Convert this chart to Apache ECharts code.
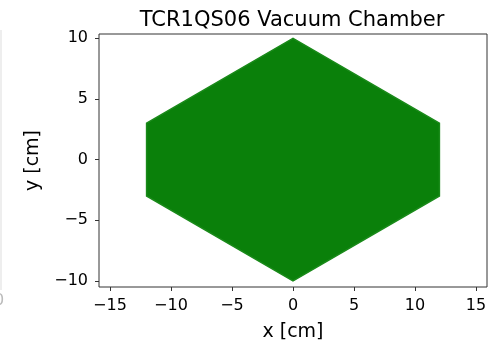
<!DOCTYPE html>
<html>
<head>
<meta charset="utf-8">
<script src="https://cdn.jsdelivr.net/npm/echarts@6/dist/echarts.min.js"></script>
<style>
  html, body { margin: 0; padding: 0; background: #fff; }
  #chart { width: 495px; height: 340px; }
</style>
</head>
<body>
<div id="chart"></div>
<script>
// outline of the particle cloud (x, y in cm)
var hexX = [-12, 0, 12, 12, 0, -12];
var hexY = [3, 10, 3, -3, -10, -3];
var xTicks = [-15, -10, -5, 0, 5, 10, 15];
var yTicks = [-10, -5, 0, 5, 10];

var chart = echarts.init(document.getElementById('chart'));
var font = 'DejaVu Sans';

var vertexData = hexX.map(function (x, i) { return [x, hexY[i]]; });

function minusLabel(v) {
	return String(v).replace('-', '\u2212');
}

var option = {
	animation: false,
	title: {
		text: 'TCR1QS06 Vacuum Chamber',
		left: 287,
		textAlign: 'center',
		top: 5,
		textStyle: { fontFamily: font, fontSize: 21, fontWeight: 'normal', color: '#000' }
	},
	grid: {
		left: 99, right: 8, top: 34, bottom: 53,
		outerBoundsMode: 'none',
		show: true, borderColor: '#333', borderWidth: 1
	},
	xAxis: {
		type: 'value',
		min: -15.9, max: 15.9,
		name: 'x [cm]',
		nameLocation: 'middle',
		nameGap: 36,
		nameTextStyle: { fontFamily: font, fontSize: 19, color: '#000' },
		axisLine: { show: false, onZero: false },
		axisTick: { show: true, length: 4, customValues: xTicks, lineStyle: { color: '#333' } },
		axisLabel: {
			customValues: xTicks, margin: 11,
			fontFamily: font, fontSize: 16, color: '#000',
			formatter: minusLabel
		},
		splitLine: { show: false }
	},
	yAxis: {
		type: 'value',
		min: -10.5, max: 10.35,
		name: 'y [cm]',
		nameLocation: 'middle',
		nameGap: 56,
		nameRotate: 90,
		nameTextStyle: { fontFamily: font, fontSize: 19, color: '#000' },
		axisLine: { show: false, onZero: false },
		axisTick: { show: true, length: 4, customValues: yTicks, lineStyle: { color: '#333' } },
		axisLabel: {
			customValues: yTicks, margin: 11,
			fontFamily: font, fontSize: 16, color: '#000',
			formatter: minusLabel
		},
		splitLine: { show: false }
	},
	series: [{
		type: 'custom',
		data: vertexData,
		renderItem: function (params, api) {
			if (params.dataIndex !== 0) return null;
			var pts = vertexData.map(function (d) { return api.coord(d); });
			return {
				type: 'polygon',
				shape: { points: pts },
				style: {
					fill: '#0a800a',
					stroke: '#1a8a1a',
					lineWidth: 1.5
				}
			};
		}
	}],
	graphic: [
		{ type: 'line', shape: { x1: 1, y1: 30, x2: 1, y2: 290 }, style: { stroke: '#ddd', lineWidth: 1 } },
		{ type: 'text', left: -6, top: 293, style: { text: '0', font: '16px DejaVu Sans', fill: '#bbb' } }
	]
};

chart.setOption(option);
window.addEventListener('resize', function () { chart.resize(); });
</script>
</body>
</html>
